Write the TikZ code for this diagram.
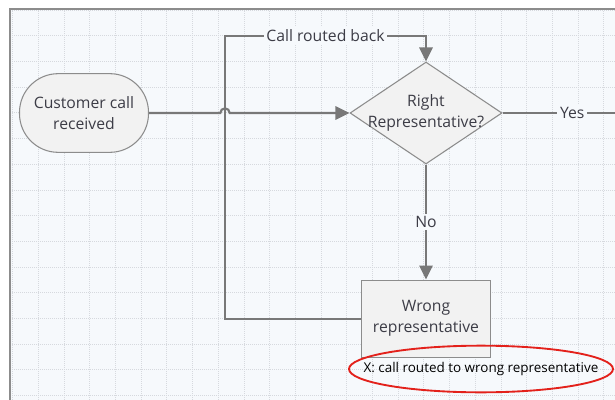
\documentclass[tikz,border=0pt]{standalone}
\usepackage{fontspec}
\setmainfont{Open Sans}
\usetikzlibrary{shapes.geometric,arrows.meta}
\definecolor{nen}{HTML}{F6F9FC}
\definecolor{luoi}{HTML}{D6D9DE}
\definecolor{vien}{HTML}{8C8C8C}
\definecolor{net}{HTML}{787878}
\definecolor{chu}{HTML}{3C3C46}
\definecolor{hop}{HTML}{F2F2F2}
\definecolor{do}{HTML}{E3211B}
\begin{document}
\begin{tikzpicture}[x=0.75pt,y=-0.75pt,
  font=\fontsize{11.8}{15.75}\selectfont, text=chu,
  khoi/.style={draw=vien, fill=hop, line width=0.8pt, align=center, inner sep=0pt},
  duong/.style={draw=net, line width=1.6pt},
  muiten/.style={duong, -{Triangle[width=10pt,length=10.5pt]}},
  nhan/.style={fill=nen, inner sep=2pt}]
  \useasboundingbox (0,0) rectangle (615,400);
  % Nền và lưới
  \fill[white] (0,0) rectangle (615,400);
  \fill[nen] (10,9) rectangle (615,400);
  \foreach \i in {0,...,23}
    \draw[luoi, densely dotted, line width=0.5pt] (12.6+25.7*\i,9) -- (12.6+25.7*\i,400);
  \foreach \j in {0,...,15}
    \draw[luoi, densely dotted, line width=0.5pt] (10,10+25.7*\j) -- (615,10+25.7*\j);
  \draw[vien, line width=0.8pt] (615,9) -- (10,9) -- (10,400);
  % Các khối
  \node[khoi, rounded corners=29pt, minimum width=96.75pt, minimum height=59pt] (goi) at (84,113) {Customer call\\received};
  \node[khoi, diamond, minimum width=114pt, minimum height=76.5pt,
    label={[align=center]center:Right\\Representative?}] (kiemtra) at (426,113) {};
  \node[khoi, minimum width=96.75pt, minimum height=58pt] (sai) at (426,318.7) {Wrong\\representative};
  % Các điểm phụ
  \coordinate (cat) at (225,113);
  \coordinate (ve) at (225,36);
  \coordinate (yes) at (615,113);
  % Các đường nối
  \draw[muiten] (sai.west) -- (sai.west -| ve) -- (ve) -- node[nhan] {Call routed back} (ve -| kiemtra.north) -- (kiemtra.north);
  \draw[muiten] (goi.east) -- ([xshift=-3.5pt]cat) arc[start angle=180, end angle=0, radius=3.5pt] -- (kiemtra.west);
  \draw[muiten] (kiemtra.south) -- node[nhan] {No} (sai.north);
  \draw[duong] (kiemtra.east) -- node[nhan, pos=0.62] {Yes} (yes);
  % Ghi chú
  \node[ellipse, draw=do, line width=1.4pt, minimum width=198pt, minimum height=35pt, inner sep=0pt,
    label={[text=black, font=\fontsize{10.1}{12}\selectfont]center:X: call routed to wrong representative}] (ghichu) at (481,369) {};
\end{tikzpicture}
\end{document}
